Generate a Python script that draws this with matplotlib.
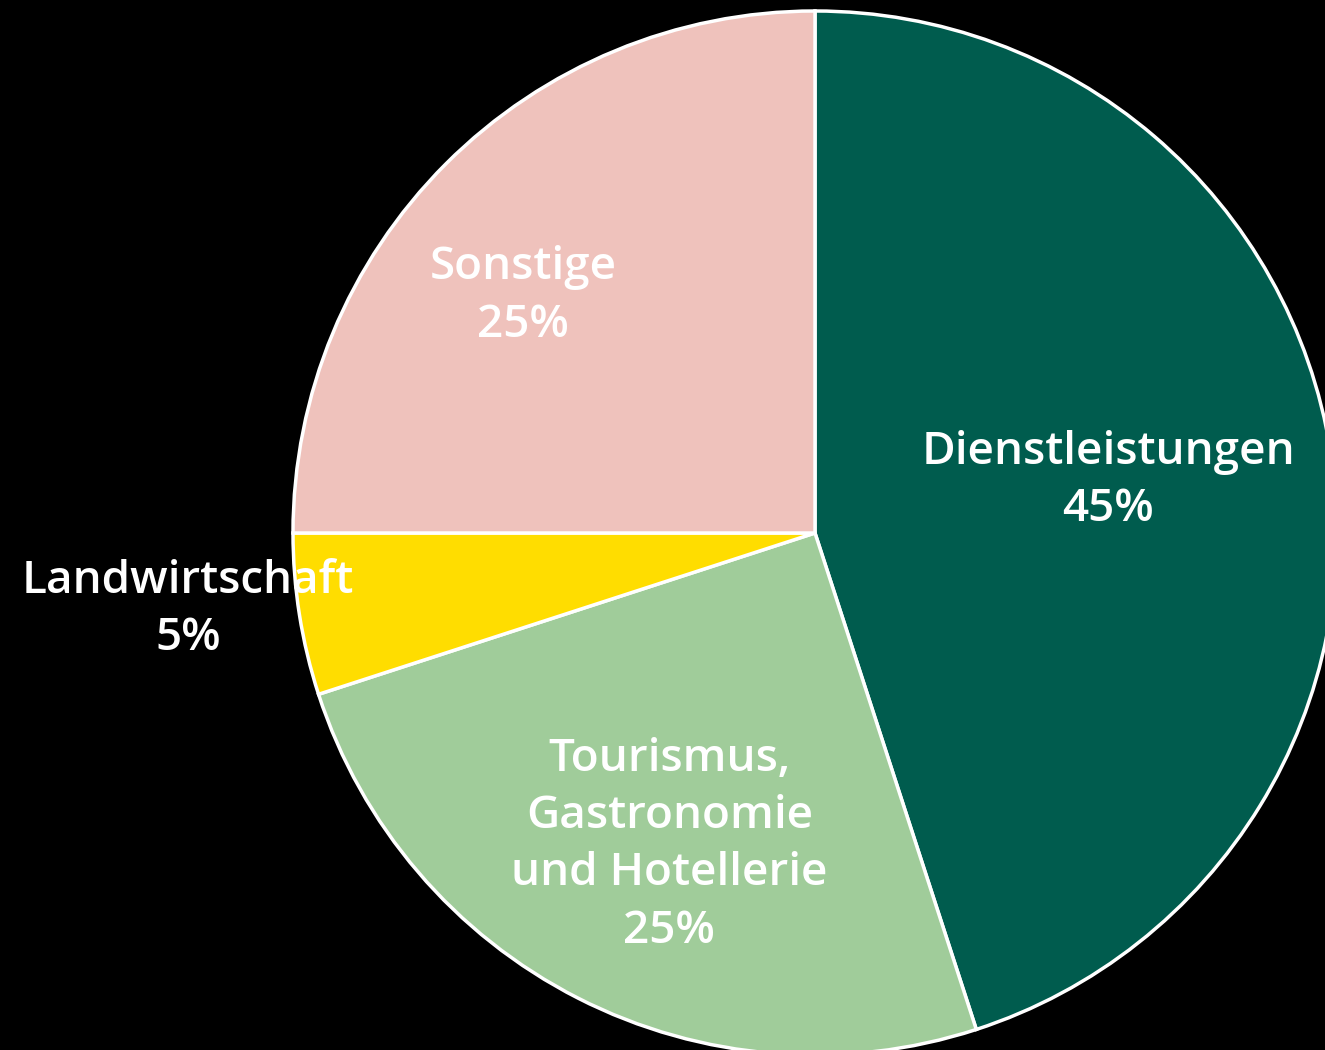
import numpy as np
import matplotlib
matplotlib.use("Agg")
import matplotlib.pyplot as plt

# shares of the economy, clockwise from the top
sectors = ["Dienstleistungen", "Tourismus,\nGastronomie\nund Hotellerie", "Landwirtschaft", "Sonstige"]
shares = [45, 25, 5, 25]
colors = ["#005C4E", "#A0CC9A", "#FFDD00", "#EFC2BC"]

# label placement: distance from centre (in radii) and angle nudge (deg)
label_dist = [0.57, 0.66, 1.21, 0.72]
label_turn = [1, 2, -2, 6]

fig = plt.figure(figsize=(13.25, 10.5), dpi=100, facecolor="black")
ax = fig.add_axes([0, 0, 1, 1])
ax.set_facecolor("black")

wedges, _ = ax.pie(shares, colors=colors, startangle=90, counterclock=False,
                   radius=1, wedgeprops=dict(edgecolor="white", linewidth=2.5))

for w, name, val, d, t in zip(wedges, sectors, shares, label_dist, label_turn):
    mid = np.deg2rad((w.theta1 + w.theta2) / 2 + t)
    ax.text(d * np.cos(mid), d * np.sin(mid), f"{name}\n{val}%",
            ha="center", va="center", color="white", fontsize=33,
            fontfamily="Open Sans", fontweight="semibold", linespacing=1.36)

# pie centre sits right of the middle, slightly cut at the right and bottom
ax.set_xlim(-815 / 522, 510 / 522)
ax.set_ylim(-517 / 522, 533 / 522)
ax.set_aspect("auto")
ax.axis("off")

fig.savefig("out.png", dpi=100, facecolor="black")
